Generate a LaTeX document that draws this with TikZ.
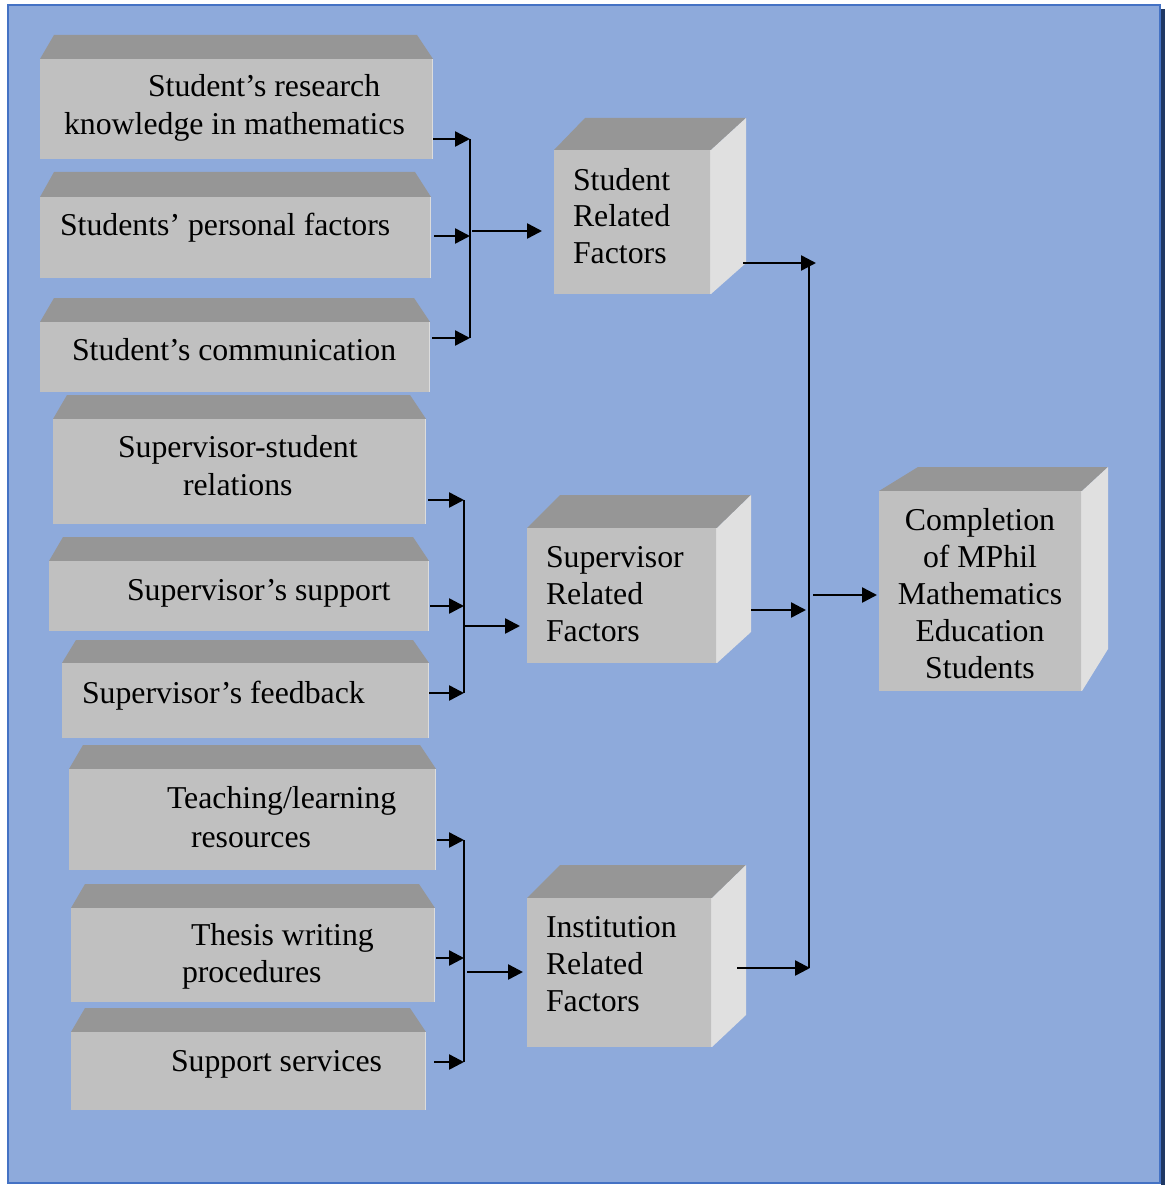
\documentclass[tikz,border=0pt]{standalone}
\usepackage{fontspec}
\setmainfont{Liberation Serif}
\usetikzlibrary{arrows.meta}
\definecolor{bgblue}{HTML}{8EAADB}
\definecolor{edgeblue}{HTML}{4472C4}
\definecolor{darkblue}{HTML}{1F3864}
\definecolor{frontgray}{HTML}{C0C0C0}
\definecolor{topgray}{HTML}{969696}
\definecolor{sidegray}{HTML}{E0E0E0}
\definecolor{hilite}{HTML}{DCDCDC}
\tikzset{
  frontface/.style={fill=frontgray, draw=none, inner sep=0pt, outer sep=0pt, rectangle},
  topface/.style={fill=topgray},
  sideface/.style={fill=sidegray},
  txt/.style={inner sep=0pt, outer sep=0pt, font=\fontsize{31.8}{37}\selectfont, text=black},
  arr/.style={line width=2.5pt, -{Triangle[length=15pt,width=15pt]}},
  bus/.style={line width=1.7pt},
}
% name, x1, ytop, yfront, x2, ybottom
\newcommand{\mybevel}[6]{%
  \fill[topface] (#2,#4) -- ({#2+14},#3) -- ({#5-16},#3) -- (#5,#4) -- cycle;
  \node[frontface, minimum width={#5-#2}, minimum height={#6-#4}] (#1) at ({(#2+#5)/2},{(#4+#6)/2}) {};
  \draw[hilite, line width=1.5pt] ([xshift=-0.75pt]#1.north east) -- ([xshift=-0.75pt]#1.south east);
}
% name x1 y1 x2 y2 ytop xbackleft xright yrightbottom
\newcommand{\mycube}[9]{%
  \fill[topface] (#2,#3) -- (#7,#6) -- (#8,#6) -- (#4,#3) -- cycle;
  \fill[sideface] (#4,#3) -- (#8,#6) -- (#8,#9) -- (#4,#5) -- cycle;
  \node[frontface, minimum width={#4-#2}, minimum height={#5-#3}] (#1) at ({(#2+#4)/2},{(#3+#5)/2}) {};
  \draw[hilite, line width=1.5pt] ([xshift=-0.75pt]#1.north east) -- ([xshift=-0.75pt]#1.south east);
}
\newcommand{\tline}[4]{\node[txt, anchor=base west] (#1) at (#2,#3) {#4};}
\newcommand{\ctrline}[4]{\node[txt, anchor=base] (#1) at (#2,#3) {#4};}
\begin{document}
\begin{tikzpicture}[x=1pt, y=-1pt]
\useasboundingbox (0,0) rectangle (1165,1185);
\fill[white] (0,0) rectangle (1165,1185);
\fill[bgblue] (8,5) rectangle (1160,1183);
\draw[edgeblue, line width=2pt] (8,5) rectangle (1160,1183);
\fill[darkblue] (1161,9) rectangle (1165,1185);

% left boxes
\mybevel{b1}{40}{35}{59}{433}{159}
\tline{t1a}{148}{97}{Student’s research}
\tline{t1b}{64}{135}{knowledge in mathematics}
\mybevel{b2}{40}{172}{197}{431}{278}
\tline{t2}{60}{235}{Students’ personal factors}
\mybevel{b3}{40}{298}{322}{430}{392}
\tline{t3}{72}{360}{Student’s communication}
\mybevel{b4}{53}{395}{419}{426}{524}
\tline{t4a}{118}{457}{Supervisor-student}
\tline{t4b}{183}{495}{relations}
\mybevel{b5}{49}{537}{561}{429}{631}
\tline{t5}{127}{600}{Supervisor’s support}
\mybevel{b6}{62}{640}{663}{429}{738}
\tline{t6}{82}{703}{Supervisor’s feedback}
\mybevel{b7}{69}{745}{769}{436}{870}
\tline{t7a}{167}{808}{Teaching/learning}
\tline{t7b}{191}{847}{resources}
\mybevel{b8}{71}{884}{908}{435}{1002}
\tline{t8a}{191}{945}{Thesis writing}
\tline{t8b}{182}{982}{procedures}
\mybevel{b9}{71}{1008}{1032}{426}{1110}
\tline{t9}{171}{1071}{Support services}

% cubes
\mycube{c1}{554}{150}{711}{294}{118}{585}{746}{263}
\tline{c1a}{573}{190}{Student}
\tline{c1b}{573}{226}{Related}
\tline{c1c}{573}{263}{Factors}
\mycube{c2}{527}{528}{717}{663}{495}{560}{751}{632}
\tline{c2a}{546}{567}{Supervisor}
\tline{c2b}{546}{604}{Related}
\tline{c2c}{546}{641}{Factors}
\mycube{c3}{527}{898}{712}{1047}{865}{560}{746}{1015}
\tline{c3a}{546}{937}{Institution}
\tline{c3b}{546}{974}{Related}
\tline{c3c}{546}{1011}{Factors}
\mycube{c4}{879}{491}{1082}{691}{467}{918}{1108}{649}
\ctrline{c4a}{980}{530}{Completion}
\ctrline{c4b}{980}{567}{of MPhil}
\ctrline{c4c}{980}{604}{Mathematics}
\ctrline{c4d}{980}{641}{Education}
\ctrline{c4e}{980}{678}{Students}

% group 1
\coordinate (g1a) at (470,139);
\coordinate (g1b) at (470,236);
\coordinate (g1c) at (470,338);
\coordinate (g1m) at (472,231);
\draw[bus] (g1a) -- (g1c);
\draw[arr] (b1.east |- g1a) -- (g1a);
\draw[arr] ([xshift=3pt]b2.east |- g1b) -- (g1b);
\draw[arr] ([xshift=2pt]b3.east |- g1c) -- (g1c);
\draw[arr, shorten >=12pt] (g1m) -- (c1.west |- g1m);

% group 2
\coordinate (g2a) at (464,500);
\coordinate (g2b) at (464,606);
\coordinate (g2c) at (464,693);
\coordinate (g2m) at (465,626);
\draw[bus] (g2a) -- (g2c);
\draw[arr] ([xshift=2pt]b4.east |- g2a) -- (g2a);
\draw[arr] ([xshift=1pt]b5.east |- g2b) -- (g2b);
\draw[arr] (b6.east |- g2c) -- (g2c);
\draw[arr, shorten >=7pt] (g2m) -- (c2.west |- g2m);

% group 3
\coordinate (g3a) at (464,840);
\coordinate (g3b) at (464,958);
\coordinate (g3c) at (464,1062);
\coordinate (g3m) at (467,972);
\draw[bus] (g3a) -- (g3c);
\draw[arr] ([xshift=1pt]b7.east |- g3a) -- (g3a);
\draw[arr] ([xshift=1pt]b8.east |- g3b) -- (g3b);
\draw[arr] ([xshift=8pt]b9.east |- g3c) -- (g3c);
\draw[arr, shorten >=4pt] (g3m) -- (c3.west |- g3m);

% main bus
\coordinate (m1) at (809,263);
\coordinate (m3) at (809,968);
\coordinate (m1e) at (816,263);
\coordinate (m2e) at (806,610);
\coordinate (m3e) at (810,968);
\coordinate (m4) at (813,595);
\draw[bus] (m1) -- (m3);
\draw[arr] ([xshift=32pt]c1.east |- m1) -- (m1e);
\draw[arr] ([xshift=34pt]c2.east |- m2e) -- (m2e);
\draw[arr] ([xshift=25pt]c3.east |- m3e) -- (m3e);
\draw[arr, shorten >=2pt] (m4) -- (c4.west |- m4);
\end{tikzpicture}
\end{document}
